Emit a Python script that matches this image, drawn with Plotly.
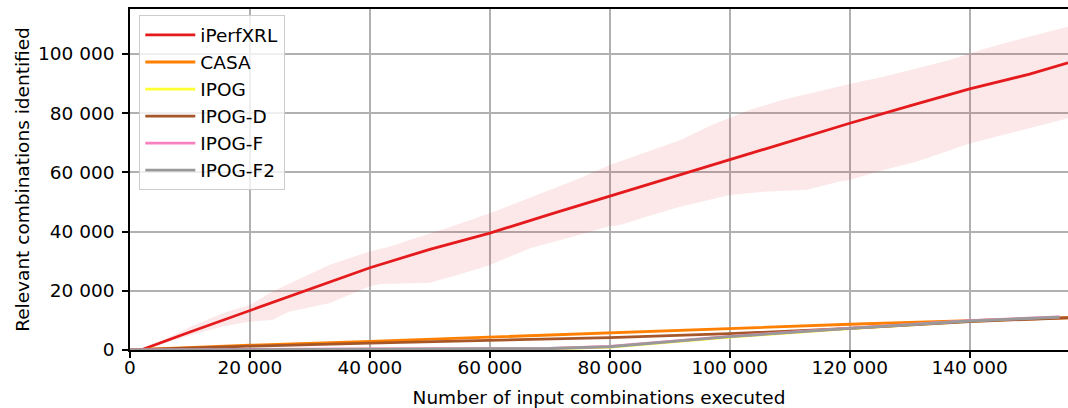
import plotly.graph_objects as go

# iPerfXRL mean curve
x_iperf = [0, 1800, 10000, 20000, 30000, 40000, 50000, 60000, 70000, 80000,
           90000, 100000, 110000, 120000, 130000, 140000, 150000, 156400]
y_iperf = [0, 0, 6100, 13400, 20700, 27800, 34000, 39500, 45800, 52000,
           58200, 64200, 70500, 76600, 82500, 88200, 93200, 97000]

# iPerfXRL spread (upper / lower envelope)
x_band_upper = [0, 2000, 5000, 10000, 15400, 20000, 23700, 33200, 39800, 43200,
                48300, 52800, 60000, 65000, 69400, 75000, 80000, 86100, 91700,
                97000, 103300, 108900, 114400, 120000, 125600, 131100, 136700,
                142200, 147800, 156400]
y_band_upper = [0, 0, 2800, 7800, 12400, 15200, 19700, 28700, 33200, 34900,
                38300, 41100, 46200, 50100, 53500, 58000, 62500, 67000, 70900,
                76000, 81100, 84500, 87300, 89900, 92300, 95200, 98000,
                101600, 104700, 109200]
x_band_lower = [0, 2000, 5000, 10000, 15400, 20000, 23700, 26500, 33200, 39800,
                41700, 50000, 55600, 60000, 66700, 75000, 80000, 81700, 86100,
                91700, 100000, 105600, 112800, 118300, 120000, 125600, 131100,
                140000, 147800, 156400]
y_band_lower = [0, 0, 1800, 5000, 7900, 9600, 10100, 12900, 15800, 21400,
                22300, 22700, 25900, 28700, 34400, 38900, 41900, 42200, 45000,
                48400, 52400, 53500, 54100, 56900, 57400, 60800, 63600,
                69800, 73800, 78300]

# Baseline tools
x_base = [0, 20000, 40000, 60000, 80000, 100000, 120000, 140000, 156400]
y_casa = [0, 1600, 2900, 4400, 5900, 7200, 8700, 9900, 10900]
y_ipog_d = [0, 1300, 2300, 3200, 4200, 5500, 7300, 9600, 10900]

x_ipog = [0, 20000, 40000, 60000, 70000, 80000, 90000, 100000, 120000, 140000, 155000]
y_ipog = [0, 150, 250, 350, 450, 1000, 2600, 4400, 7200, 9700, 11000]
y_ipog_f = [0, 250, 350, 450, 550, 1200, 2800, 4600, 7400, 9900, 11200]
y_ipog_f2 = [0, 200, 300, 400, 500, 1100, 2700, 4500, 7300, 9800, 11100]

FONT = "DejaVu Sans"
FS = 18.5

fig = go.Figure()

# shaded spread around the iPerfXRL curve
fig.add_trace(go.Scatter(
    x=x_band_upper + x_band_lower[::-1],
    y=y_band_upper + y_band_lower[::-1],
    fill="toself", fillcolor="rgba(228,26,28,0.1)",
    line=dict(width=0), mode="lines", showlegend=False, hoverinfo="skip",
))

series = [
    ("iPerfXRL", x_iperf, y_iperf, "#e41a1c"),
    ("CASA", x_base, y_casa, "#ff7f00"),
    ("IPOG", x_ipog, y_ipog, "#ffff33"),
    ("IPOG-D", x_base, y_ipog_d, "#a65628"),
    ("IPOG-F", x_ipog, y_ipog_f, "#f781bf"),
    ("IPOG-F2", x_ipog, y_ipog_f2, "#999999"),
]
for name, xs, ys, color in series:
    fig.add_trace(go.Scatter(
        x=xs, y=ys, name=name, mode="lines",
        line=dict(color=color, width=2.8),
    ))

axis_common = dict(
    showgrid=True, gridcolor="#b0b0b0", gridwidth=1.5,
    showline=True, linecolor="black", linewidth=1.5,
    ticks="outside", ticklen=6, tickwidth=1.5, tickcolor="black",
    zeroline=False, tickfont=dict(family=FONT, size=FS, color="black"),
    tickformat=",d",
)

fig.update_layout(
    width=1068, height=408,
    margin=dict(l=130, r=0, t=9, b=58),
    paper_bgcolor="white", plot_bgcolor="white",
    separators=". ",
    font=dict(family=FONT, size=FS, color="black"),
    xaxis=dict(
        range=[0, 156400], dtick=20000, mirror=True,
        title=dict(text="Number of input combinations executed",
                   font=dict(family=FONT, size=FS), standoff=16),
        ticklabelstandoff=-6,
        **axis_common,
    ),
    yaxis=dict(
        range=[0, 115200], dtick=20000,
        title=dict(text="Relevant combinations identified",
                   font=dict(family=FONT, size=FS), standoff=4),
        ticklabelstandoff=4,
        **axis_common,
    ),
    legend=dict(
        x=0.0096, y=0.982, xanchor="left", yanchor="top",
        bgcolor="rgba(255,255,255,0.8)", bordercolor="#cccccc", borderwidth=1.3,
        font=dict(family=FONT, size=FS, color="black"),
        itemwidth=50, tracegroupgap=0,
    ),
    showlegend=True,
)

fig.write_html("out.html")
